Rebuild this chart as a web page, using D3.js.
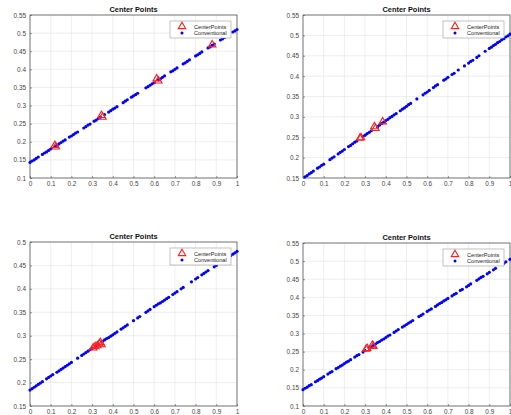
<!DOCTYPE html>
<html>
<head>
<meta charset="utf-8">
<script src="https://cdn.jsdelivr.net/npm/d3@7"></script>
<style>
  body { margin: 0; background: #fff; }
  svg { font-family: "Liberation Sans", Arial, sans-serif; }
  .tick text { fill: #444; font-size: 6.4px; }
  .title { font-size: 7.4px; font-weight: bold; fill: #111; }
  .leg { font-size: 5.6px; fill: #222; }
</style>
</head>
<body>
<div class="canvas"></div>
<script>
// x tick labels shared by all four panels
const xTicks = [0, 0.1, 0.2, 0.3, 0.4, 0.5, 0.6, 0.7, 0.8, 0.9, 1]

// y ticks for each panel
const yTicks1 = [0.1, 0.15, 0.2, 0.25, 0.3, 0.35, 0.4, 0.45, 0.5, 0.55]
const yTicks2 = [0.15, 0.2, 0.25, 0.3, 0.35, 0.4, 0.45, 0.5, 0.55]
const yTicks3 = [0.15, 0.2, 0.25, 0.3, 0.35, 0.4, 0.45, 0.5]
const yTicks4 = [0.1, 0.15, 0.2, 0.25, 0.3, 0.35, 0.4, 0.45, 0.5, 0.55]

// CenterPoints (red triangles)
const center1 = [[0.12,0.19],[0.125,0.186],[0.345,0.273],[0.35,0.268],[0.612,0.374],[0.62,0.368],[0.88,0.468]]
const center2 = [[0.275,0.248],[0.28,0.249],[0.345,0.276],[0.35,0.272],[0.385,0.288]]
const center3 = [[0.305,0.274],[0.315,0.277],[0.325,0.279],[0.335,0.283],[0.34,0.286],[0.345,0.281]]
const center4 = [[0.305,0.257],[0.31,0.259],[0.335,0.268],[0.34,0.265]]

// Conventional (blue dots)
const conv1 = [[0,0.143],[0.01,0.147],[0.02,0.150],[0.03,0.154],[0.04,0.158],[0.06,0.165],[0.07,0.169],[0.08,0.172],[0.09,0.176],[0.1,0.180],
  [0.12,0.187],[0.13,0.191],[0.14,0.194],[0.15,0.198],[0.16,0.202],[0.17,0.205],[0.19,0.213],[0.2,0.216],[0.21,0.220],[0.22,0.224],[0.23,0.227],
  [0.26,0.238],[0.27,0.242],[0.28,0.246],[0.29,0.249],[0.31,0.257],[0.32,0.260],[0.33,0.264],[0.34,0.268],[0.36,0.275],[0.38,0.282],[0.39,0.286],
  [0.4,0.290],[0.41,0.293],[0.42,0.297],[0.45,0.308],[0.46,0.312],[0.47,0.316],[0.49,0.323],[0.5,0.327],[0.51,0.330],[0.52,0.334],
  [0.56,0.349],[0.57,0.352],[0.58,0.356],[0.59,0.360],[0.6,0.363],[0.62,0.371],[0.63,0.374],[0.64,0.378],[0.65,0.382],[0.68,0.393],[0.69,0.396],
  [0.7,0.400],[0.71,0.404],[0.74,0.415],[0.75,0.418],[0.76,0.422],[0.77,0.426],[0.8,0.437],[0.81,0.440],[0.82,0.444],[0.83,0.448],
  [0.86,0.459],[0.87,0.462],[0.88,0.466],[0.89,0.470],[0.92,0.481],[0.93,0.484],[0.94,0.488],[0.95,0.492],[0.98,0.503],[0.99,0.506],[1,0.510]]
const conv2 = [[0.01,0.153],[0.02,0.156],[0.03,0.160],[0.04,0.163],[0.05,0.167],[0.07,0.174],[0.08,0.177],[0.09,0.181],[0.1,0.184],
  [0.13,0.195],[0.14,0.199],[0.15,0.202],[0.17,0.209],[0.18,0.213],[0.19,0.216],[0.2,0.220],[0.22,0.227],[0.23,0.230],[0.24,0.234],[0.25,0.238],[0.26,0.241],
  [0.29,0.252],[0.3,0.255],[0.31,0.259],[0.32,0.262],[0.33,0.266],[0.36,0.276],[0.37,0.280],[0.38,0.284],[0.39,0.287],[0.4,0.291],[0.41,0.294],
  [0.42,0.298],[0.43,0.301],[0.44,0.305],[0.45,0.308],[0.47,0.315],[0.48,0.319],[0.49,0.322],[0.5,0.326],[0.51,0.330],[0.52,0.333],[0.55,0.344],
  [0.58,0.354],[0.59,0.358],[0.6,0.361],[0.61,0.365],[0.63,0.372],[0.64,0.376],[0.65,0.379],[0.68,0.390],[0.69,0.393],[0.7,0.397],[0.72,0.404],
  [0.73,0.407],[0.75,0.415],[0.78,0.425],[0.8,0.432],[0.81,0.436],[0.82,0.439],[0.84,0.446],[0.85,0.450],[0.88,0.461],[0.9,0.468],[0.91,0.471],
  [0.92,0.475],[0.93,0.478],[0.94,0.482],[0.95,0.485],[0.96,0.489],[0.97,0.492],[0.98,0.496],[0.99,0.499],[1,0.503]]
const conv3 = [[0,0.184],[0.01,0.187],[0.02,0.190],[0.03,0.193],[0.04,0.196],[0.05,0.199],[0.06,0.202],[0.08,0.208],[0.09,0.211],[0.1,0.214],[0.11,0.217],
  [0.13,0.222],[0.14,0.225],[0.15,0.228],[0.16,0.231],[0.17,0.234],[0.18,0.237],[0.19,0.240],[0.2,0.243],[0.23,0.252],[0.25,0.258],[0.26,0.261],
  [0.27,0.264],[0.28,0.267],[0.29,0.270],[0.3,0.273],[0.32,0.279],[0.33,0.282],[0.35,0.288],[0.36,0.291],[0.37,0.294],[0.38,0.296],[0.39,0.299],
  [0.4,0.302],[0.41,0.305],[0.42,0.308],[0.44,0.314],[0.45,0.317],[0.46,0.320],[0.47,0.323],[0.5,0.332],[0.52,0.338],[0.53,0.341],[0.56,0.350],
  [0.57,0.353],[0.58,0.356],[0.6,0.362],[0.61,0.365],[0.62,0.368],[0.63,0.370],[0.64,0.373],[0.65,0.376],[0.66,0.379],[0.67,0.382],[0.69,0.388],
  [0.7,0.391],[0.71,0.394],[0.73,0.400],[0.74,0.403],[0.78,0.415],[0.8,0.421],[0.81,0.424],[0.83,0.430],[0.84,0.433],[0.85,0.436],[0.86,0.439],
  [0.89,0.447],[0.9,0.450],[0.92,0.456],[0.96,0.468],[0.97,0.471],[0.98,0.474],[0.99,0.477],[1,0.480]]
const conv4 = [[0,0.145],[0.01,0.149],[0.02,0.152],[0.03,0.156],[0.04,0.159],[0.06,0.167],[0.07,0.170],[0.08,0.174],[0.09,0.177],[0.1,0.181],
  [0.12,0.188],[0.13,0.192],[0.14,0.195],[0.16,0.203],[0.17,0.206],[0.18,0.210],[0.19,0.213],[0.2,0.217],[0.21,0.221],[0.22,0.224],[0.23,0.228],
  [0.25,0.235],[0.26,0.239],[0.27,0.242],[0.29,0.249],[0.3,0.253],[0.32,0.260],[0.33,0.264],[0.34,0.267],[0.35,0.271],[0.36,0.275],[0.37,0.278],
  [0.38,0.282],[0.39,0.285],[0.4,0.289],[0.41,0.293],[0.42,0.296],[0.44,0.303],[0.45,0.307],[0.46,0.311],[0.48,0.318],[0.49,0.321],[0.5,0.325],
  [0.51,0.329],[0.52,0.332],[0.53,0.336],[0.56,0.347],[0.57,0.350],[0.58,0.354],[0.6,0.361],[0.61,0.365],[0.62,0.368],[0.64,0.375],[0.65,0.379],
  [0.66,0.383],[0.67,0.386],[0.68,0.390],[0.69,0.393],[0.7,0.397],[0.72,0.404],[0.73,0.408],[0.74,0.411],[0.76,0.419],[0.77,0.422],[0.79,0.429],
  [0.8,0.433],[0.81,0.437],[0.84,0.447],[0.85,0.451],[0.86,0.455],[0.87,0.458],[0.89,0.465],[0.9,0.469],[0.92,0.476],[0.93,0.480],[0.96,0.491],
  [0.97,0.494],[0.98,0.498],[1,0.505]]

const panels = [
  {left: 30, top: 15, w: 207, h: 163, yMin: 0.1, yMax: 0.55, yTicks: yTicks1, center: center1, conv: conv1},
  {left: 303, top: 15, w: 207, h: 163, yMin: 0.15, yMax: 0.55, yTicks: yTicks2, center: center2, conv: conv2},
  {left: 30, top: 242, w: 207, h: 164, yMin: 0.15, yMax: 0.5, yTicks: yTicks3, center: center3, conv: conv3},
  {left: 303, top: 243, w: 207, h: 163, yMin: 0.1, yMax: 0.55, yTicks: yTicks4, center: center4, conv: conv4}
]

const svg = d3.select('.canvas')
    .append('svg')
    .attr('width', 511)
    .attr('height', 415)

const tri = d3.symbol().type(d3.symbolTriangle).size(24)

panels.forEach(p => {
    const g = svg.append('g')
        .attr('transform', `translate(${p.left}, ${p.top})`)

    const x = d3.scaleLinear().domain([0, 1]).range([0, p.w])
    const y = d3.scaleLinear().domain([p.yMin, p.yMax]).range([p.h, 0])

    g.append('rect')
        .attr('width', p.w).attr('height', p.h)
        .attr('fill', '#fff')

    // grid
    g.selectAll('.gx').data(xTicks).enter().append('line')
        .attr('x1', d => x(d)).attr('x2', d => x(d))
        .attr('y1', 0).attr('y2', p.h)
        .attr('stroke', '#e3e3e3').attr('stroke-width', 0.6)
    g.selectAll('.gy').data(p.yTicks).enter().append('line')
        .attr('y1', d => y(d)).attr('y2', d => y(d))
        .attr('x1', 0).attr('x2', p.w)
        .attr('stroke', '#e3e3e3').attr('stroke-width', 0.6)

    const xAxis = d3.axisBottom(x).tickValues(xTicks).tickSize(-2).tickPadding(4)
        .tickFormat(d => d3.format('~g')(d))
    const yAxis = d3.axisLeft(y).tickValues(p.yTicks).tickSize(-2).tickPadding(4)
        .tickFormat(d => d3.format('~g')(d))

    const xg = g.append('g').attr('transform', `translate(0, ${p.h})`).call(xAxis)
    const yg = g.append('g').call(yAxis)
    xg.select('.domain').remove()
    yg.select('.domain').remove()
    xg.selectAll('line').attr('stroke', '#555').attr('stroke-width', 0.6)
    yg.selectAll('line').attr('stroke', '#555').attr('stroke-width', 0.6)
    xg.selectAll('text').attr('dy', '0.6em')

    // frame
    g.append('rect')
        .attr('width', p.w).attr('height', p.h)
        .attr('fill', 'none').attr('stroke', '#444').attr('stroke-width', 0.7)

    g.append('text')
        .attr('class', 'title')
        .attr('x', p.w / 2).attr('y', -3)
        .attr('text-anchor', 'middle')
        .text('Center Points')

    // conventional points
    g.selectAll('.conv').data(p.conv).enter().append('circle')
        .attr('cx', d => x(d[0])).attr('cy', d => y(d[1]))
        .attr('r', 1.6)
        .attr('fill', '#0000ff')

    // center points
    g.selectAll('.cp').data(p.center).enter().append('path')
        .attr('d', tri)
        .attr('transform', d => `translate(${x(d[0])}, ${y(d[1])})`)
        .attr('fill', 'none')
        .attr('stroke', '#ff2020')
        .attr('stroke-width', 1.1)

    // legend
    const lg = g.append('g').attr('transform', `translate(${p.w - 67}, 6)`)
    lg.append('rect')
        .attr('width', 61).attr('height', 17)
        .attr('fill', '#fff').attr('stroke', '#999').attr('stroke-width', 0.6)
    lg.append('path').attr('d', tri)
        .attr('transform', 'translate(12, 5.5)')
        .attr('fill', 'none').attr('stroke', '#ff2020').attr('stroke-width', 1.1)
    lg.append('circle').attr('cx', 12).attr('cy', 12).attr('r', 1.5).attr('fill', '#0000ff')
    lg.append('text').attr('class', 'leg').attr('x', 24).attr('y', 7.5)
        .text('CenterPoints')
    lg.append('text').attr('class', 'leg').attr('x', 24).attr('y', 14)
        .text('Conventional')
})
</script>
</body>
</html>
